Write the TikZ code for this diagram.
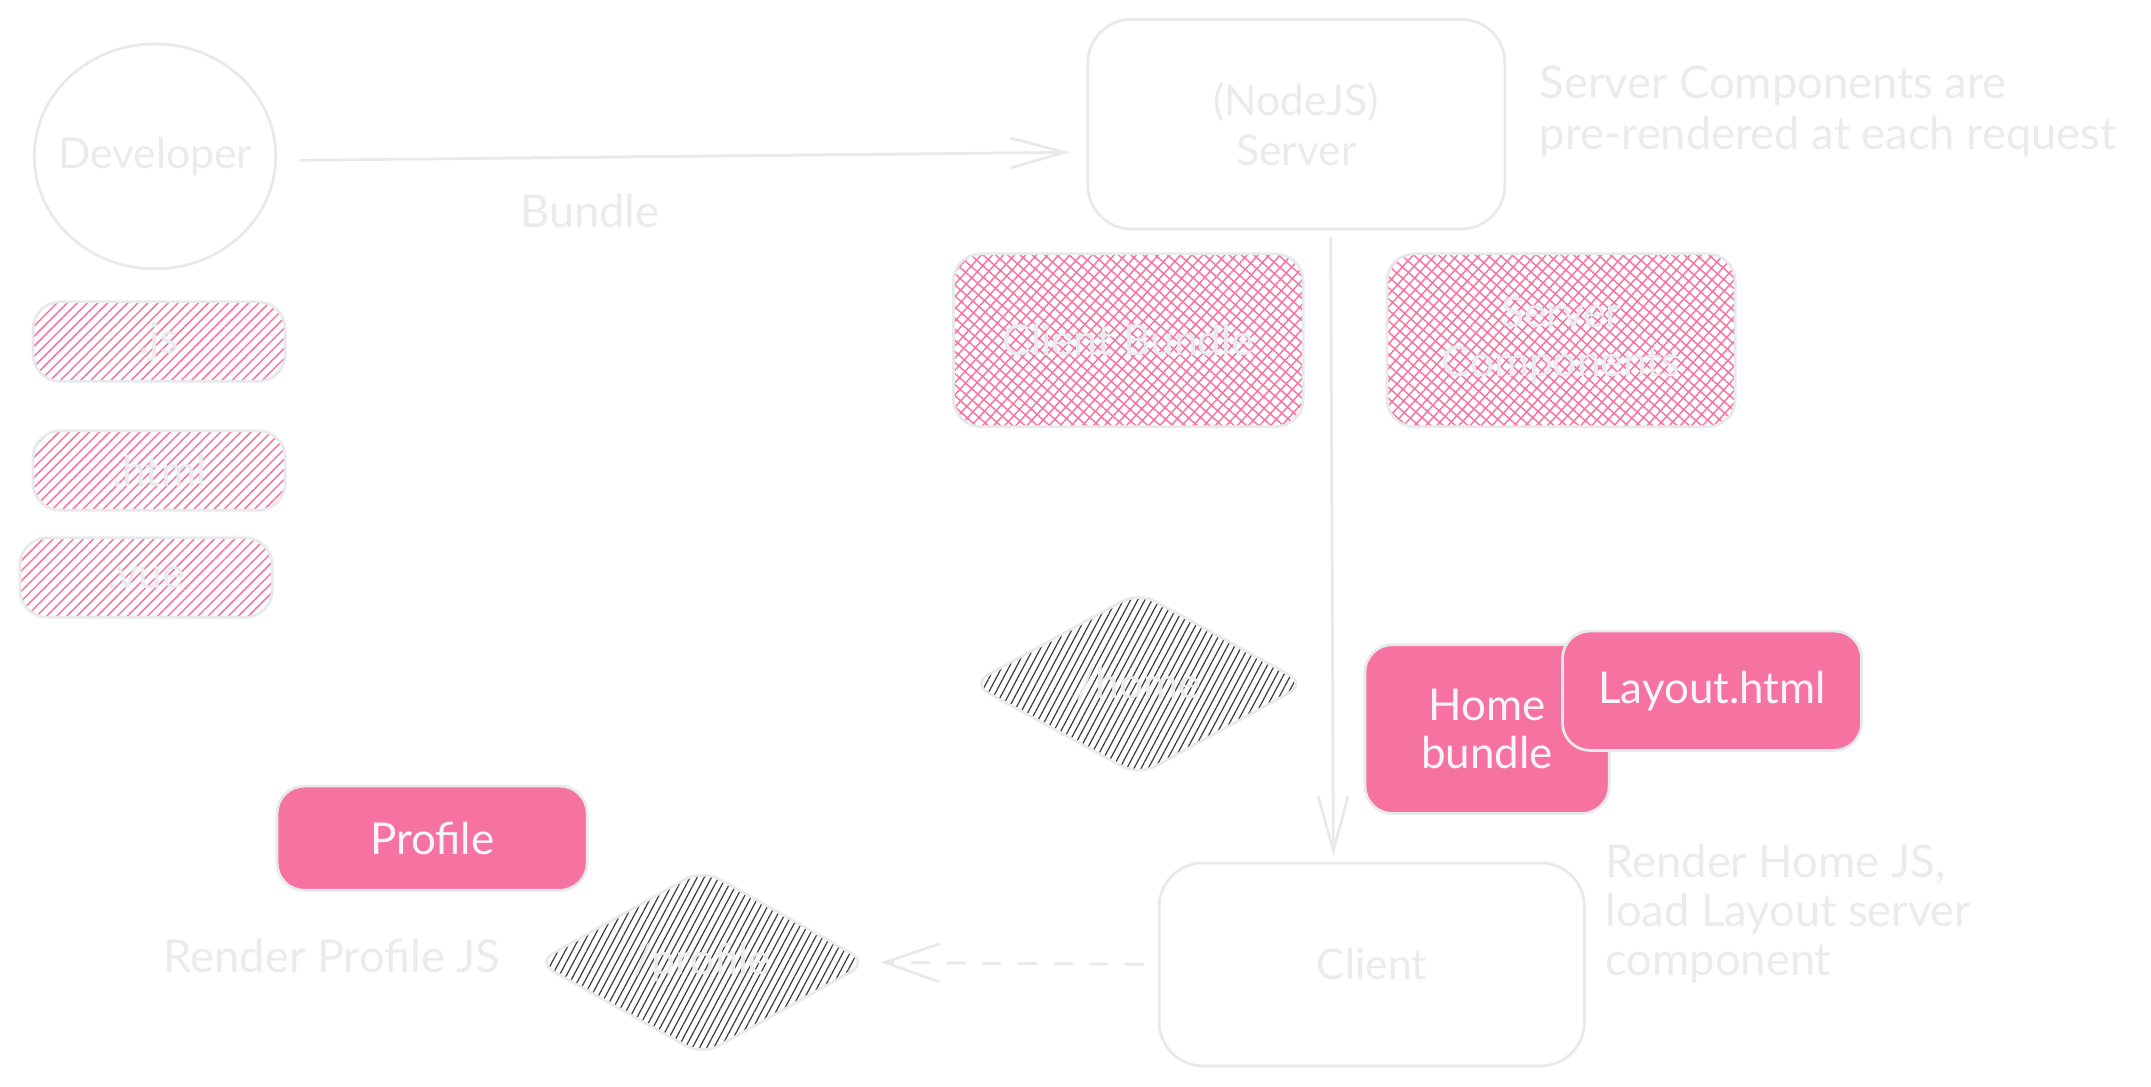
\documentclass[tikz,border=0pt]{standalone}
\usepackage{fontspec}
\setmainfont{Lato}
\usetikzlibrary{arrows.meta,shapes.geometric,patterns.meta}

\definecolor{linegray}{RGB}{232,233,235}
\definecolor{txtgray}{RGB}{234,235,236}
\definecolor{fillpink}{RGB}{246,114,160}
\definecolor{hatchpink}{RGB}{245,118,162}
\definecolor{hatchdark}{RGB}{58,62,68}

\begin{document}
\begin{tikzpicture}[x=0.5pt,y=-0.5pt,
  every node/.style={inner sep=0pt,font=\fontsize{15.5}{18}\selectfont},
  plainbox/.style={draw=linegray,line width=1pt,rounded corners=10pt,align=center,text=txtgray},
  solidbox/.style={plainbox,fill=fillpink,text=white!93!gray,font=\fontsize{16}{17.5}\selectfont},
  stripebox/.style={plainbox,pattern={Lines[angle=45,distance=2.6pt,line width=0.55pt]},pattern color=hatchpink},
  crossbox/.style={plainbox,pattern={Hatch[angle=48,distance=3pt,line width=0.55pt]},pattern color=hatchpink},
  routebox/.style={diamond,draw=linegray,line width=1pt,rounded corners=7pt,text=txtgray,aspect=1.8,
    pattern={Lines[angle=62,distance=2.3pt,line width=0.45pt]},pattern color=hatchdark},
  note/.style={text=txtgray,align=left,font=\fontsize{16.5}{18.5}\selectfont},
  flow/.style={draw=linegray,line width=1pt,-{Straight Barb[length=20pt,width=11pt]}}
]
\useasboundingbox (0,0) rectangle (1568,792);

%Shape: Circle
\node [ellipse,draw=linegray,line width=1pt,minimum width=88pt,minimum height=82pt,
  label={[text=txtgray]center:Developer}] (dev) at (113,114) {};

%Rounded Rect
\node [plainbox,rounded corners=16pt,minimum width=152pt,minimum height=76.5pt] (srv) at (945,90.5) {(NodeJS)\\Server};
\node [plainbox,rounded corners=16pt,minimum width=155pt,minimum height=74pt] (cli) at (1000,703) {Client};

%Hatched boxes
\node [stripebox,minimum width=92pt,minimum height=29pt] (js) at (116,249) {.js};
\node [stripebox,minimum width=92pt,minimum height=29pt] (html) at (116,343) {.html};
\node [stripebox,minimum width=92pt,minimum height=29pt] (vue) at (106.5,421) {.vue};
\node [crossbox,minimum width=127.5pt,minimum height=63pt] (cbundle) at (822.5,248) {Client Bundle};
\node [crossbox,minimum width=127pt,minimum height=63pt] (scomp) at (1138,248) {Server\\Components};

%Routes
\node [routebox,minimum width=122pt,minimum height=67pt] (home) at (830,498.5) {/home};
\node [routebox,minimum width=121pt,minimum height=68pt] (profile) at (512,701.5) {/profile};

%Filled boxes
\node [solidbox,minimum width=89pt,minimum height=61.5pt] (hbundle) at (1084,531.5) {Home\\bundle};
\node [solidbox,minimum width=109pt,minimum height=43.5pt] (layout) at (1248,503.5) {Layout.html};
\node [solidbox,minimum width=113pt,minimum height=38pt] (pbox) at (315,611) {Profile};

%Straight Lines
\draw [flow,shorten <=8pt,shorten >=6pt] ([yshift=-1.5pt]dev.east) -- ([yshift=-10.2pt]srv.west);
\draw [flow,shorten <=2.5pt,shorten >=2pt] ([xshift=12.5pt]srv.south) -- ([xshift=-14pt]cli.north);
\draw [flow,dash pattern=on 7pt off 6pt,shorten <=5pt,shorten >=4pt,-{Straight Barb[length=20pt,width=14pt]}] (cli.west) -- (profile.east);

% Text Node
\node [note] (bundlelbl) at (430,154) {Bundle};
\node [note,anchor=west] (srvnote) at (1122,81.5) {Server Components are\\pre-rendered at each request};
\node [note,anchor=west,font=\fontsize{16.5}{18}\selectfont] (clinote) at (1170,666) {Render Home JS,\\load Layout server\\component};
\node [note] (profnote) at (242,697) {Render Profile JS};

\end{tikzpicture}
\end{document}
